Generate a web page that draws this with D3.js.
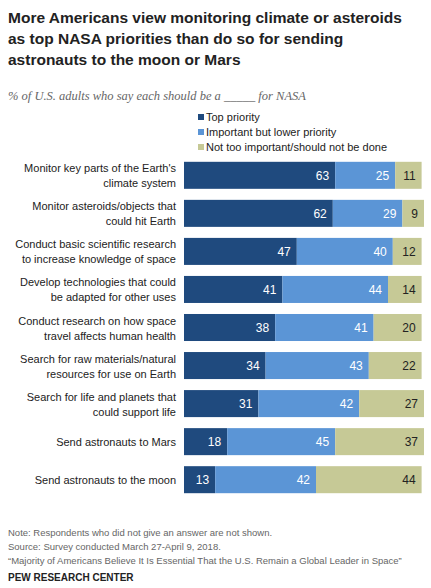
<!DOCTYPE html>
<html><head><meta charset="utf-8">
<script src="https://cdn.jsdelivr.net/npm/d3@7"></script>
<style>body{margin:0;background:#fff}</style>
</head><body><svg id="svg" width="431" height="588"></svg>
<script>
const labels=[["Monitor key parts of the Earth's","climate system"],["Monitor asteroids/objects that","could hit Earth"],["Conduct basic scientific research","to increase knowledge of space"],["Develop technologies that could","be adapted for other uses"],["Conduct research on how space","travel affects human health"],["Search for raw materials/natural","resources for use on Earth"],["Search for life and planets that","could support life"],["Send astronauts to Mars"],["Send astronauts to the moon"]];
const topPriority=[63,62,47,41,38,34,31,18,13];
const lowerPriority=[25,29,40,44,41,43,42,45,42];
const notImportant=[11,9,12,14,20,22,27,37,44];
const seriesNames=["Top priority","Important but lower priority","Not too important/should not be done"];
const colors=["#1f4a7e","#5b95d6","#c6c996"];
const textColors=["#fff","#fff","#222"];

const svg=d3.select("#svg");
const font="Arial, 'Liberation Sans', sans-serif";
const x=d3.scaleLinear().domain([0,100]).range([184,424]);
const y=d3.scaleBand().domain(d3.range(labels.length)).range([158,497]).paddingInner(0.29).paddingOuter(0.1);

["More Americans view monitoring climate or asteroids","as top NASA priorities than do so for sending","astronauts to the moon or Mars"].forEach((t,i)=>{
    svg.append("text").attr("x",8).attr("y",23+i*21).style("font-family",font).style("font-size","15.5px").style("font-weight","bold").style("fill","#222").text(t);
});
svg.append("text").attr("x",8).attr("y",100).style("font-family","'Liberation Serif', serif").style("font-style","italic").style("font-size","12.5px").style("fill","#666").text("% of U.S. adults who say each should be a _____ for NASA");

seriesNames.forEach((n,i)=>{
    svg.append("rect").attr("x",198).attr("y",114+i*15).attr("width",6).attr("height",6).attr("fill",colors[i]);
    svg.append("text").attr("x",206).attr("y",121+i*15).style("font-family",font).style("font-size","11px").style("fill","#222").text(n);
});

const series=[topPriority,lowerPriority,notImportant];
labels.forEach((lab,r)=>{
    let cum=0;
    const yc=y(r)+y.bandwidth()/2;
    series.forEach((s,i)=>{
        const v=s[r];
        svg.append("rect").attr("x",x(cum)).attr("y",y(r)).attr("width",x(cum+v)-x(cum)).attr("height",y.bandwidth()).attr("fill",colors[i]);
        svg.append("text").attr("x",x(cum+v)-6).attr("y",yc+4.5).attr("text-anchor","end").style("font-family",font).style("font-size","12px").style("fill",textColors[i]).text(v);
        cum+=v;
    });
    const y0=lab.length==1?yc+4:yc-3;
    lab.forEach((l,k)=>{
        svg.append("text").attr("x",176).attr("y",y0+k*15).attr("text-anchor","end").style("font-family",font).style("font-size","11px").style("fill","#222").text(l);
    });
});

["Note: Respondents who did not give an answer are not shown.","Source: Survey conducted March 27-April 9, 2018.","\u201cMajority of Americans Believe It Is Essential That the U.S. Remain a Global Leader in Space\u201d"].forEach((t,i)=>{
    svg.append("text").attr("x",8).attr("y",536+i*14).style("font-family",font).style("font-size","9.5px").style("fill","#666").text(t);
});
svg.append("text").attr("x",8).attr("y",581).style("font-family",font).style("font-size","10px").style("font-weight","bold").style("fill","#222").text("PEW RESEARCH CENTER");
</script></body></html>
